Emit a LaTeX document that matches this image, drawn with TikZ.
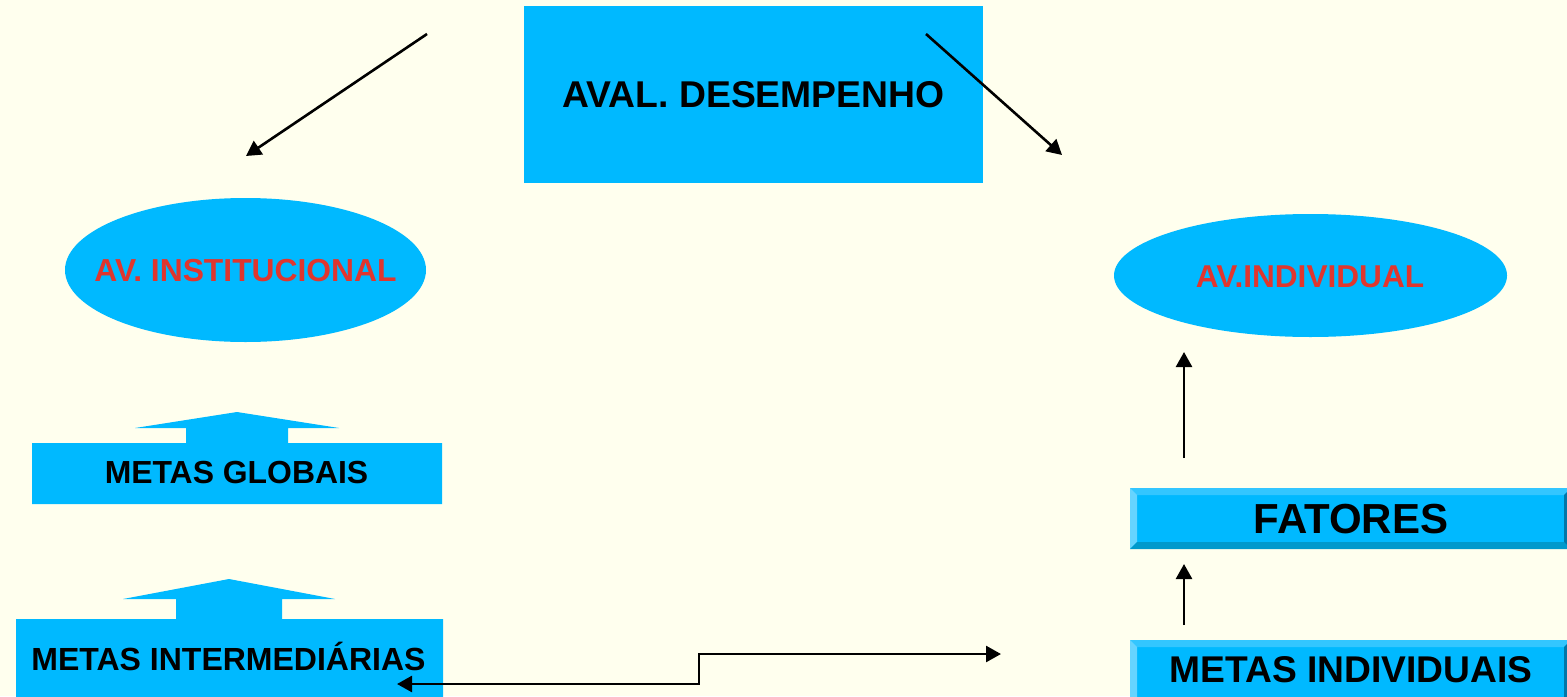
\documentclass[tikz,border=0pt]{standalone}
\usepackage{fontspec}
\setmainfont{Liberation Sans}
\usetikzlibrary{arrows.meta,shapes.geometric}
\definecolor{bg}{HTML}{FFFFEE}
\definecolor{cy}{HTML}{00B9FF}
\definecolor{rd}{HTML}{E0362E}
\definecolor{bvtop}{HTML}{33C6FF}
\definecolor{bvleft}{HTML}{66D4FF}
\definecolor{bvbot}{HTML}{0099CC}
\definecolor{bvright}{HTML}{0077A8}
\newcommand{\bevbox}[4]{%
  \fill[cy] (#1,#2) rectangle (#3,#4);
  \fill[bvtop] (#1,#2) -- (#3,#2) -- ({#3-7},{#2+7}) -- ({#1+7},{#2+7}) -- cycle;
  \fill[bvleft] (#1,#2) -- ({#1+7},{#2+7}) -- ({#1+7},{#4-7}) -- (#1,#4) -- cycle;
  \fill[bvbot] (#1,#4) -- ({#1+7},{#4-7}) -- ({#3-7},{#4-7}) -- (#3,#4) -- cycle;
  \fill[bvright] (#3,#2) -- ({#3-7},{#2+7}) -- ({#3-7},{#4-7}) -- (#3,#4) -- cycle;
}
\begin{document}
\begin{tikzpicture}[x=0.5pt,y=-0.5pt,
  lbl/.style={font=\bfseries\fontsize{#1}{#1}\selectfont, inner sep=0pt, anchor=base},
  arr/.style={line width=1.3pt, -{Triangle[length=7.5pt,width=8pt]}},
  darr/.style={line width=1.3pt, {Triangle[length=7.5pt,width=8pt]}-{Triangle[length=7.5pt,width=8pt]}},
  ell/.style={ellipse, fill=cy, inner sep=0pt}
]
\useasboundingbox (0,0) rectangle (1567,696);
\clip (0,0) rectangle (1567,696);
\fill[bg] (0,0) rectangle (1567,696);

% top box
\fill[cy] (524,6) rectangle (983,183);
\node[lbl=18.65pt] (aval) at (753.5,107) {AVAL. DESEMPENHO};

% ellipses
\node[ell, minimum width=180.5pt, minimum height=72pt] (inst) at (245.5,270) {};
\node[lbl=15.9pt, text=rd] (instt) at (245.5,281) {AV. INSTITUCIONAL};
\node[ell, minimum width=196.5pt, minimum height=61.5pt] (indiv) at (1310.5,275.5) {};
\node[lbl=15.8pt, text=rd] (indivt) at (1310,287) {AV.INDIVIDUAL};

% metas globais block arrow
\fill[cy] (32,443) -- (186,443) -- (186,428) -- (135,428) -- (237,412) -- (339,428) -- (288,428) -- (288,443) -- (442,443) -- (442,504) -- (32,504) -- cycle;
\node[lbl=15.95pt] (glob) at (236.5,483) {METAS GLOBAIS};

% metas intermediarias block arrow
\fill[cy] (16,619) -- (176,619) -- (176,599) -- (123,599) -- (229,579) -- (335,599) -- (282,599) -- (282,619) -- (443,619) -- (443,710) -- (16,710) -- cycle;
\node[lbl=16pt] (inter) at (228.5,670) {METAS INTERMEDIÁRIAS};

% bevelled boxes
\bevbox{1130}{488}{1571}{549}
\node[lbl=21pt] (fat) at (1351,533) {FATORES};
\bevbox{1130}{640}{1571}{712}
\node[lbl=18.6pt] (mind) at (1351,682) {METAS INDIVIDUAIS};

% connectors
\coordinate (a1s) at (427,34);
\coordinate (a1e) at (246,156);
\coordinate (a2s) at (926,34);
\coordinate (a2e) at (1062,155);
\coordinate (a3s) at (1184,458);
\coordinate (a3e) at (1184,352);
\coordinate (a4s) at (1184,625);
\coordinate (a4e) at (1184,564);
\coordinate (c1) at (1001,654);
\coordinate (c2) at (699,654);
\coordinate (c3) at (699,684);
\coordinate (c4) at (397,684);
\draw[arr] (a1s) -- (a1e);
\draw[arr] (a2s) -- (a2e);
\draw[arr] (a3s) -- (a3e);
\draw[arr] (a4s) -- (a4e);
\draw[darr] (c1) -- (c2) -- (c3) -- (c4);
\end{tikzpicture}
\end{document}
